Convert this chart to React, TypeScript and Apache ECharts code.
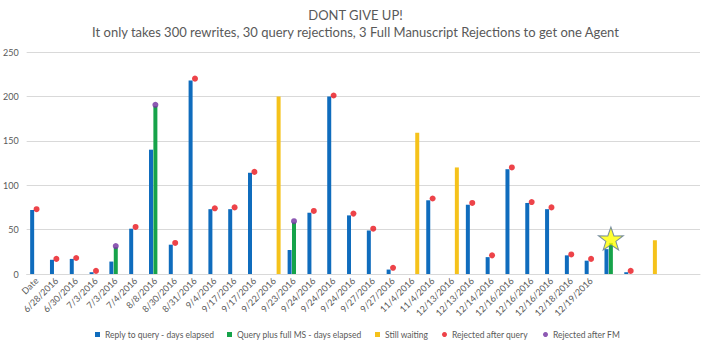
import React, { useEffect, useRef } from "react";
import * as echarts from "echarts";

const titleLine1 = "DONT GIVE UP!";
const titleLine2 =
  "It only takes 300 rewrites, 30 query rejections, 3 Full Manuscript Rejections to get one Agent";

const categories = [
  "Date", "6/28/2016", "6/30/2016", "7/3/2016", "7/3/2016", "7/4/2016", "8/8/2016",
  "8/30/2016", "8/31/2016", "9/4/2016", "9/17/2016", "9/17/2016", "9/22/2016",
  "9/23/2016", "9/24/2016", "9/24/2016", "9/24/2016", "9/27/2016", "9/27/2016",
  "11/4/2016", "11/4/2016", "12/13/2016", "12/13/2016", "12/14/2016", "12/16/2016",
  "12/16/2016", "12/16/2016", "12/18/2016", "12/19/2016", "", "", "", "", "",
];

const N = null;
const replyToQuery = [
  72, 16, 17, 2, 14, 51, 140, 33, 218, 73, 73, 114, N, 27, 69, 200, 66, 49, 5, N,
  83, N, 78, 19, 118, 80, 73, 21, 15, 28, 2, N, N, N,
];
const queryPlusFullMS = [
  N, N, N, N, 30, N, 189, N, N, N, N, N, N, 58, N, N, N, N, N, N,
  N, N, N, N, N, N, N, N, N, 35, N, N, N, N,
];
const stillWaiting = [
  N, N, N, N, N, N, N, N, N, N, N, N, 200, N, N, N, N, N, N, 159,
  N, 120, N, N, N, N, N, N, N, N, N, 38, N, N,
];
const rejectedAfterQuery = [
  73, 17, 18, 3.5, N, 53, N, 35, 220, 74, 75, 115, N, N, 71, 201, 68, 51, 7, N,
  85, N, 80, 21, 120, 81, 75, 22, 17, N, 3.5, N, N, N,
];
const rejectedAfterFM = [
  N, N, N, N, 31.5, N, 190.5, N, N, N, N, N, N, 59.5, N, N, N, N, N, N,
  N, N, N, N, N, N, N, N, N, N, N, N, N, N,
];
const agentStar = [
  N, N, N, N, N, N, N, N, N, N, N, N, N, N, N, N, N, N, N, N,
  N, N, N, N, N, N, N, N, N, 40, N, N, N, N,
];

const seriesNames = [
  "Reply to query - days elapsed",
  "Query plus full MS - days elapsed",
  "Still waiting",
  "Rejected after query",
  "Rejected after FM",
];
const legendIcons = ["rect", "rect", "rect", "circle", "circle"];
const legendLefts = [95, 227, 375, 442, 543];

const yTicks = { min: 0, max: 250, interval: 50 };

const FONT = "Lato, 'Liberation Sans', sans-serif";
const GRAY = "#595959";

const STAR =
  "path://M50,0 L61.8,35.3 L97.6,34.5 L69,56.5 L79.4,90.5 L50,70 L20.6,90.5 L31,56.5 L2.4,34.5 L38.2,35.3 Z";

const titleStyle = {
  fontFamily: FONT,
  fontSize: 13,
  fontWeight: "normal",
  color: GRAY,
};

export default function App() {
  const ref = useRef<HTMLDivElement>(null);

  useEffect(() => {
    if (!ref.current) return;
    const chart = echarts.init(ref.current, undefined, { renderer: "svg" });
    chart.setOption({
      animation: false,
      backgroundColor: "#ffffff",
      textStyle: { fontFamily: FONT },
      title: [
        { text: titleLine1, left: "center", top: 8, padding: 0, textStyle: titleStyle },
        { text: titleLine2, left: "center", top: 25, padding: 0, textStyle: titleStyle },
      ],
      legend: seriesNames.map((name, i) => ({
        top: 330,
        left: legendLefts[i],
        itemWidth: 5,
        itemHeight: 5,
        padding: 0,
        textStyle: { fontFamily: FONT, fontSize: 8.5, color: GRAY },
        data: [{ name, icon: legendIcons[i] }],
      })),
      grid: { left: 25, right: 11, top: 52, bottom: 73, containLabel: false },
      xAxis: {
        type: "category",
        data: categories,
        axisLine: { lineStyle: { color: "#D9D9D9" } },
        axisTick: { show: false },
        axisLabel: {
          interval: 0,
          rotate: 45,
          fontSize: 9,
          color: GRAY,
          fontFamily: FONT,
          margin: 5,
        },
      },
      yAxis: {
        type: "value",
        ...yTicks,
        axisLine: { show: false },
        axisTick: { show: false },
        splitLine: { lineStyle: { color: "#D9D9D9" } },
        axisLabel: { fontSize: 9, color: GRAY, fontFamily: FONT, margin: 8 },
      },
      series: [
        {
          name: seriesNames[0],
          type: "bar",
          data: replyToQuery,
          barWidth: 4,
          barGap: "10%",
          itemStyle: { color: "#0F6CBD" },
        },
        {
          name: seriesNames[1],
          type: "bar",
          data: queryPlusFullMS,
          barWidth: 4,
          barGap: "10%",
          itemStyle: { color: "#16A34A" },
        },
        {
          name: seriesNames[2],
          type: "bar",
          data: stillWaiting,
          barWidth: 4,
          barGap: "10%",
          itemStyle: { color: "#F5C21B" },
        },
        {
          name: seriesNames[3],
          type: "scatter",
          data: rejectedAfterQuery,
          symbol: "circle",
          symbolSize: 6,
          itemStyle: { color: "#E8141B" },
        },
        {
          name: seriesNames[4],
          type: "scatter",
          data: rejectedAfterFM,
          symbol: "circle",
          symbolSize: 6,
          itemStyle: { color: "#7030A0" },
        },
        {
          name: "Agent",
          type: "scatter",
          data: agentStar,
          symbol: STAR,
          symbolSize: [25, 23],
          itemStyle: { color: "#FFFF00", borderColor: "#5A7599", borderWidth: 1 },
          z: 5,
        },
      ],
    });
    return () => chart.dispose();
  }, []);

  return (
    <div
      ref={ref}
      style={{ position: "fixed", left: 0, top: 0, width: 711, height: 347 }}
    />
  );
}
